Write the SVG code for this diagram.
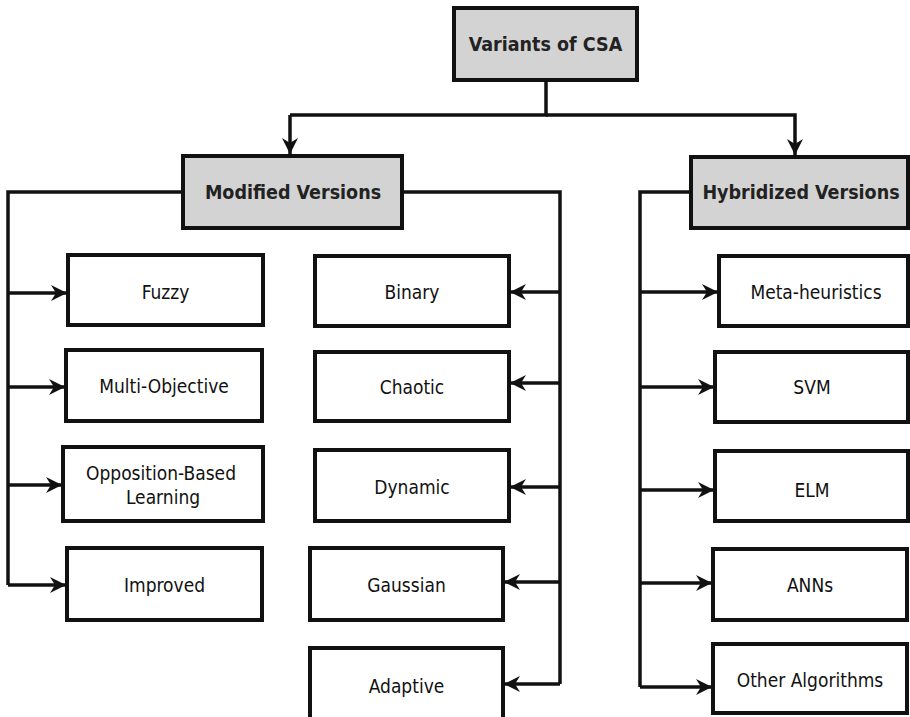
<svg xmlns="http://www.w3.org/2000/svg" width="910" height="717" viewBox="0 0 910 717">
<defs>
<marker id="ah" markerUnits="userSpaceOnUse" markerWidth="18" markerHeight="16" refX="16" refY="8" orient="auto">
<path d="M0,0 L16,8 L0,16 L5,8 z" fill="#111"/>
</marker>
<style>
.box{fill:#fff;stroke:#111;stroke-width:4}
.hd{fill:#d3d3d3;stroke:#111;stroke-width:4}
.t{font-family:"DejaVu Sans Condensed","DejaVu Sans",Verdana,sans-serif;font-stretch:condensed;font-size:19px;fill:#111;text-anchor:middle;dominant-baseline:central}
.b{font-family:"DejaVu Sans Condensed","DejaVu Sans",Verdana,sans-serif;font-stretch:condensed;font-size:19.5px;font-weight:bold;fill:#222;text-anchor:middle;dominant-baseline:central}
.c{fill:none;stroke:#111;stroke-width:3.5}
</style>
</defs>
<rect width="910" height="717" fill="#fff"/>
<g id="connectors">
<path class="c" d="M546,80 V115 H290"/>
<path class="c" d="M290,115 V154" marker-end="url(#ah)"/>
<path class="c" d="M546,115 H795 V155" marker-end="url(#ah)"/>
<path class="c" d="M183,192 H8 V585"/>
<path class="c" d="M8,293 H67" marker-end="url(#ah)"/>
<path class="c" d="M8,387 H65" marker-end="url(#ah)"/>
<path class="c" d="M8,485 H62" marker-end="url(#ah)"/>
<path class="c" d="M8,585 H66" marker-end="url(#ah)"/>
<path class="c" d="M402,192 H560 V684"/>
<path class="c" d="M560,292 H510" marker-end="url(#ah)"/>
<path class="c" d="M560,383 H510" marker-end="url(#ah)"/>
<path class="c" d="M560,487 H510" marker-end="url(#ah)"/>
<path class="c" d="M560,582 H504" marker-end="url(#ah)"/>
<path class="c" d="M560,684 H504" marker-end="url(#ah)"/>
<path class="c" d="M691,192 H640 V687"/>
<path class="c" d="M640,292 H718" marker-end="url(#ah)"/>
<path class="c" d="M640,387 H714" marker-end="url(#ah)"/>
<path class="c" d="M640,490 H714" marker-end="url(#ah)"/>
<path class="c" d="M640,583 H712" marker-end="url(#ah)"/>
<path class="c" d="M640,687 H712" marker-end="url(#ah)"/>
</g>
<g id="root"><rect class="hd" x="454" y="8" width="183" height="72"/><text class="b" x="545.5" y="44">Variants of CSA</text></g>
<g id="modified"><rect class="hd" x="183" y="156" width="219" height="72"/><text class="b" x="293" y="192">Modified Versions</text></g>
<g id="hybridized"><rect class="hd" x="691" y="157" width="217" height="71"/><text class="b" x="801" y="192">Hybridized Versions</text></g>
<g id="fuzzy"><rect class="box" x="68" y="255" width="195" height="70"/><text class="t" x="165.5" y="292">Fuzzy</text></g>
<g id="multi"><rect class="box" x="66" y="350" width="196" height="71"/><text class="t" x="164" y="386">Multi-Objective</text></g>
<g id="obl"><rect class="box" x="63" y="447" width="200" height="74"/><text class="t" x="161" y="473">Opposition-Based</text><text class="t" x="163" y="497">Learning</text></g>
<g id="improved"><rect class="box" x="67" y="548" width="195" height="72"/><text class="t" x="164.5" y="585">Improved</text></g>
<g id="binary"><rect class="box" x="315" y="256" width="194" height="70"/><text class="t" x="412" y="292">Binary</text></g>
<g id="chaotic"><rect class="box" x="315" y="352" width="194" height="69"/><text class="t" x="412" y="387">Chaotic</text></g>
<g id="dynamic"><rect class="box" x="315" y="450" width="194" height="71"/><text class="t" x="412" y="487">Dynamic</text></g>
<g id="gaussian"><rect class="box" x="310" y="548" width="193" height="72"/><text class="t" x="406.5" y="585">Gaussian</text></g>
<g id="adaptive"><rect class="box" x="310" y="648" width="193" height="80"/><text class="t" x="406.5" y="686">Adaptive</text></g>
<g id="meta"><rect class="box" x="719" y="256" width="189" height="70"/><text class="t" x="816" y="292">Meta-heuristics</text></g>
<g id="svm"><rect class="box" x="715" y="352" width="193" height="70"/><text class="t" x="812" y="387">SVM</text></g>
<g id="elm"><rect class="box" x="715" y="451" width="193" height="70"/><text class="t" x="812" y="490">ELM</text></g>
<g id="anns"><rect class="box" x="713" y="549" width="194" height="71"/><text class="t" x="810" y="585">ANNs</text></g>
<g id="other"><rect class="box" x="713" y="644" width="194" height="69"/><text class="t" x="810" y="680">Other Algorithms</text></g>
</svg>
